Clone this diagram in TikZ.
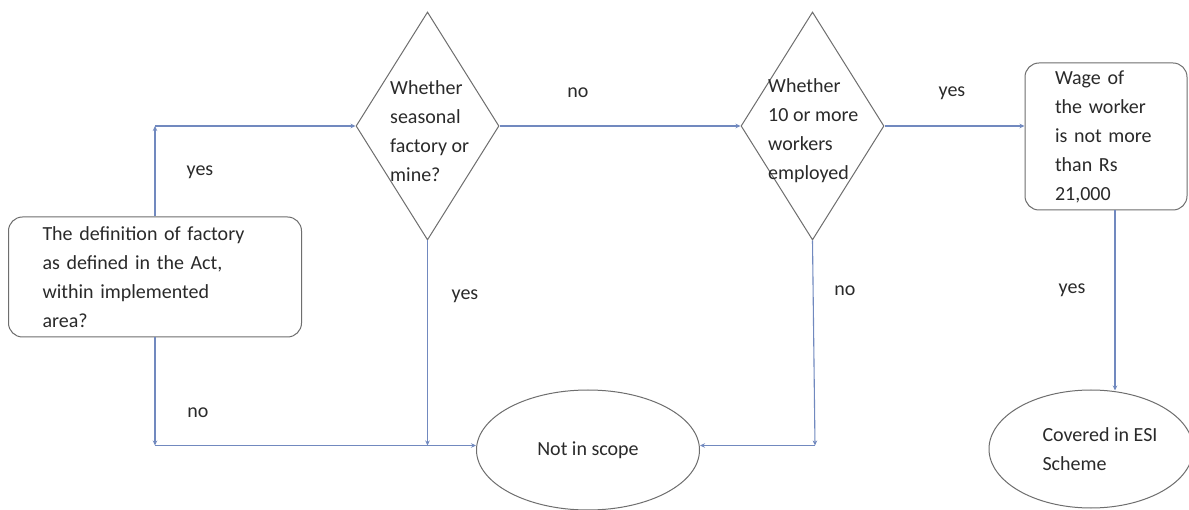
\documentclass[tikz,border=0pt]{standalone}
\usepackage{fontspec}
\setmainfont{Carlito}
\usetikzlibrary{shapes.geometric,arrows.meta,calc}
\definecolor{linec}{HTML}{7189BF}
\definecolor{shapec}{HTML}{6E6E6E}
\definecolor{txtc}{HTML}{2A2A2A}
\begin{document}
\begin{tikzpicture}[x=1pt,y=-1pt,
  font=\fontsize{20}{29}\selectfont, text=txtc,
  box/.style={draw=shapec, line width=1pt, rounded corners=14pt, align=left},
  dia/.style={draw=shapec, line width=1pt, diamond, minimum width=143pt, minimum height=228pt, inner sep=0pt},
  dtext/.style={align=left, inner sep=0pt, anchor=west},
  term/.style={draw=shapec, line width=1pt, ellipse, inner sep=0pt, align=left},
  conn/.style={draw=linec, line width=1.1pt},
  arr/.style={conn, -{Stealth[length=5pt,width=4.5pt]}},
  lbl/.style={inner sep=0pt}]
\useasboundingbox (0,0) rectangle (1189,510);
\fill[white] (0,0) rectangle (1189,510);

% nodes
\node[box, minimum width=293pt, minimum height=120pt, text width=225pt] (start) at (155,277)
  {The definition of factory\\as defined in the Act,\\within implemented\\area?};
\node[dia] (d1) at (427.5,126) {};
\node[dtext] (d1t) at (390,131) {Whether\\seasonal\\factory or\\mine?};
\node[dia] (d2) at (812.5,126) {};
\node[dtext] (d2t) at (768,131) {Whether\\10 or more\\workers\\employed};
\node[box, minimum width=162pt, minimum height=147pt, text width=102pt] (wage) at (1106,136.5)
  {Wage of\\the worker\\is not more\\than Rs\\21,000};
\node[term, minimum width=223pt, minimum height=120pt] (nis) at (588,450) {Not in scope};
\node[term, minimum width=204pt, minimum height=118pt] (cov) at (1091,449)
  {\hspace*{18pt}Covered in ESI\\\hspace*{18pt}Scheme};

% connectors
\coordinate (c1) at (start.north |- d1.west);
\draw[arr] (start.north) -- (c1);
\draw[arr] (c1) -- (d1.west);
\coordinate (c2) at ($(start.south)+(0,108)$);
\draw[arr] (start.south) -- (c2);
\draw[arr] (c2) -- (c2 -| nis.west);
\coordinate (c3) at (d1.south |- c2);
\draw[arr] (d1.south) -- (c3);
\draw[arr] (d1.east) -- (d2.west);
\coordinate (c4) at ($(d2.south |- c2)+(2.5,0)$);
\draw[arr] (d2.south) -- (c4);
\draw[arr] (c4) -- (c4 -| nis.east);
\draw[arr] (d2.east) -- (d2.east -| wage.west);
\coordinate (c5) at ($(wage.south)+(9,0)$);
\draw[arr] (c5) -- ($(c5 |- cov.north)+(0,1)$);

% labels
\node[lbl] (l1) at (200,172) {yes};
\node[lbl] (l2) at (198,413) {no};
\node[lbl] (l3) at (578,93) {no};
\node[lbl] (l4) at (952,93) {yes};
\node[lbl] (l5) at (465,296) {yes};
\node[lbl] (l6) at (845,291) {no};
\node[lbl] (l7) at (1072,290) {yes};
\end{tikzpicture}
\end{document}
